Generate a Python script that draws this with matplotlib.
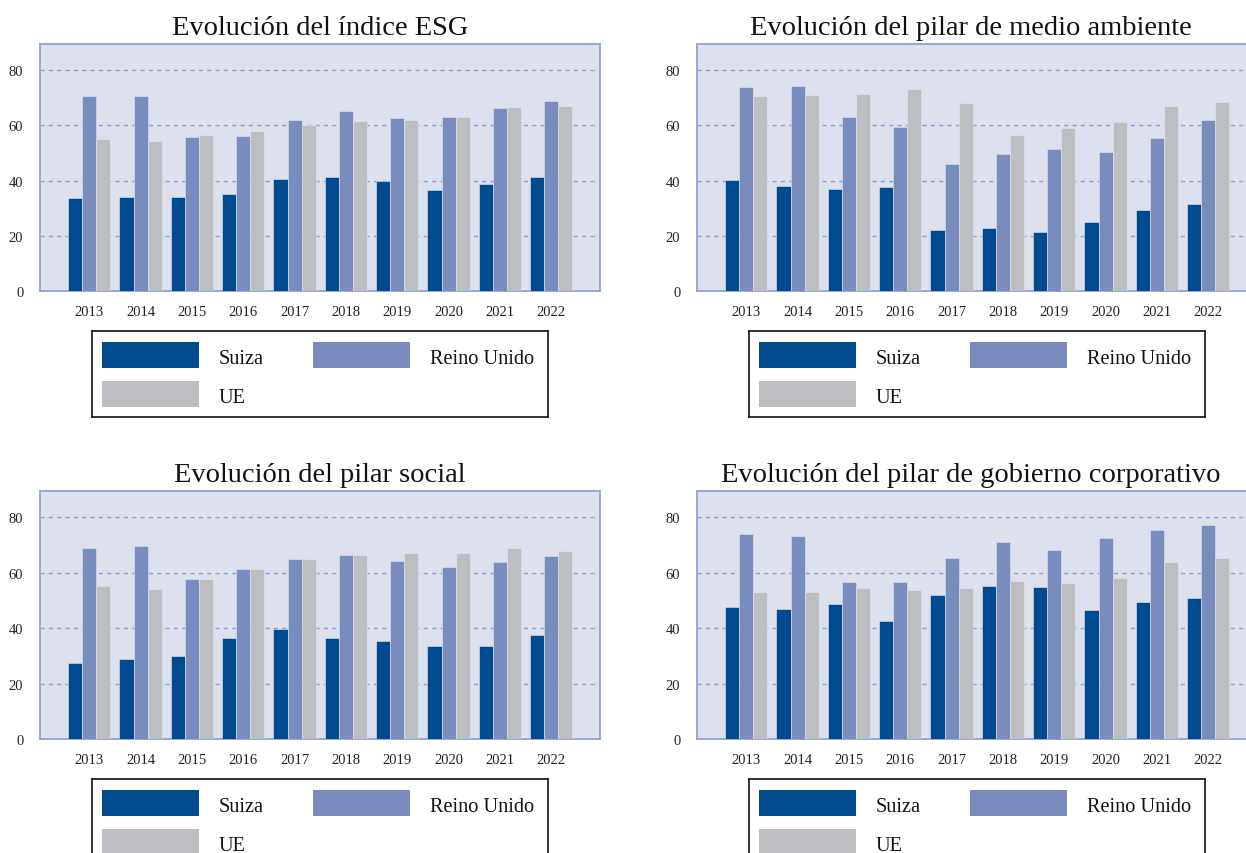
import matplotlib
matplotlib.use("Agg")
import matplotlib.pyplot as plt
from matplotlib.patches import Rectangle
import numpy as np

plt.rcParams['font.family'] = ['Liberation Serif', 'DejaVu Serif']

years = ['2013', '2014', '2015', '2016', '2017', '2018', '2019', '2020', '2021', '2022']
series_names = ['Suiza', 'Reino Unido', 'UE']
colors = ['#004A8F', '#7A8BBD', '#BDBEC2']

titles = ['Evolución del índice ESG',
          'Evolución del pilar de medio ambiente',
          'Evolución del pilar social',
          'Evolución del pilar de gobierno corporativo']

# Índice ESG
esg_suiza = [33.7, 34.0, 34.0, 35.0, 40.7, 41.2, 40.0, 36.7, 38.7, 41.4]
esg_ru = [70.5, 70.7, 55.8, 56.2, 62.1, 65.1, 62.6, 63.1, 66.2, 68.8]
esg_ue = [55.0, 54.3, 56.7, 58.0, 60.3, 61.5, 61.9, 63.0, 66.6, 66.9]

# Pilar medio ambiente
amb_suiza = [40.4, 38.2, 37.1, 37.8, 22.0, 22.8, 21.4, 25.1, 29.5, 31.7]
amb_ru = [73.8, 74.4, 63.0, 59.5, 45.9, 49.5, 51.4, 50.5, 55.3, 62.0]
amb_ue = [70.8, 71.1, 71.5, 73.1, 68.0, 56.4, 59.2, 61.1, 67.2, 68.4]

# Pilar social
soc_suiza = [27.3, 28.8, 29.8, 36.5, 39.6, 36.6, 35.3, 33.6, 33.7, 37.5]
soc_ru = [68.8, 69.8, 57.6, 61.3, 65.1, 66.5, 64.3, 62.2, 64.0, 66.0]
soc_ue = [55.3, 54.1, 57.6, 61.3, 65.1, 66.5, 67.1, 67.3, 68.8, 67.9]

# Pilar gobierno corporativo
gob_suiza = [47.5, 47.0, 48.7, 42.5, 52.0, 55.3, 54.9, 46.5, 49.5, 51.0]
gob_ru = [74.1, 73.2, 56.7, 56.7, 65.3, 71.2, 68.3, 72.6, 75.5, 77.1]
gob_ue = [53.1, 52.9, 54.5, 53.7, 54.5, 57.2, 56.4, 58.1, 63.9, 65.5]

panels = [
    (esg_suiza, esg_ru, esg_ue),
    (amb_suiza, amb_ru, amb_ue),
    (soc_suiza, soc_ru, soc_ue),
    (gob_suiza, gob_ru, gob_ue),
]

W, H = 1246, 854
fig = plt.figure(figsize=(W / 100, H / 100), dpi=100)

# axes positions in pixels: left, top, width, height, title x (axes fraction)
ax_px = [(40, 45, 560, 247, 0.5), (697, 45, 560, 247, 0.489),
         (40, 492, 560, 248, 0.5), (697, 492, 560, 248, 0.489)]

bg = '#DDE1EE'
spine_c = '#9AA6D6'
grid_c = '#8F9CD0'
bw = 0.275

for (l, t, w, h, tx_), title, data in zip(ax_px, titles, panels):
    ax = fig.add_axes([l / W, 1 - (t + h) / H, w / W, h / H])
    ax.set_facecolor(bg)
    x = np.arange(len(years))
    for i, (vals, c) in enumerate(zip(data, colors)):
        ax.bar(x + (i - 1) * bw, vals, width=bw, color=c, edgecolor='#E4E7F0',
               linewidth=0.4, zorder=3)
    ax.set_xlim(-0.96, 9.95)
    ax.set_ylim(0, 89.5)
    ax.set_yticks([0, 20, 40, 60, 80])
    ax.set_xticks(x)
    ax.set_xticklabels(years)
    for yv in [20, 40, 60, 80]:
        ax.axhline(yv, color=grid_c, lw=1.0, ls=(0, (3, 3)), zorder=1)
    ax.tick_params(axis='both', length=0, labelsize=10.5, colors='#222222')
    ax.tick_params(axis='y', pad=12)
    ax.tick_params(axis='x', pad=10)
    for s in ax.spines.values():
        s.set_color(spine_c)
        s.set_linewidth(1.4)
    ax.set_title(title, fontsize=20.5, pad=7, color='#111111', x=tx_)

    # legend box
    lx0, ly0 = l + 52, t + h + 40
    lw_, lh_ = 456, 86
    lax = fig.add_axes([lx0 / W, 1 - (ly0 + lh_) / H, lw_ / W, lh_ / H])
    lax.set_xlim(0, lw_)
    lax.set_ylim(lh_, 0)
    lax.set_xticks([])
    lax.set_yticks([])
    for s in lax.spines.values():
        s.set_color('#111111')
        s.set_linewidth(1.2)
    entries = [(10, 11, 127), (221, 11, 338), (10, 50, 127)]
    for name, c, (px, py, tx) in zip(series_names, colors, entries):
        lax.add_patch(Rectangle((px, py), 97, 26, color=c, lw=0))
        lax.text(tx, py + 14, name, fontsize=14.6, va='center_baseline', ha='left',
                 color='#111111')

fig.savefig('out.png', dpi=100)
